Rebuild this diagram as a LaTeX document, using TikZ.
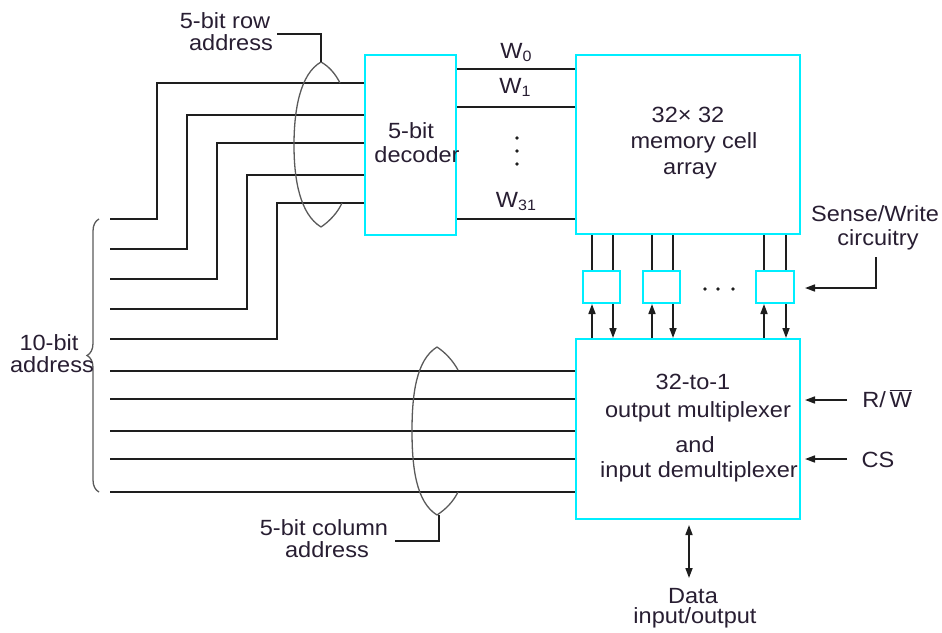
\documentclass[tikz,border=0pt]{standalone}
\usepackage{fontspec}
\setmainfont{Liberation Sans}[FakeStretch=1.07]
\usetikzlibrary{arrows.meta,decorations.pathreplacing,calc}
\definecolor{boxc}{RGB}{0,238,255}
\definecolor{wirec}{RGB}{30,30,30}
\definecolor{loopc}{RGB}{90,90,90}
\definecolor{textc}{RGB}{40,30,50}
\begin{document}
\begin{tikzpicture}[x=1pt,y=-1pt,
  blk/.style={draw=boxc,line width=2pt,inner sep=0pt,fill=none},
  lbl/.style={anchor=base,inner sep=0pt,font=\fontsize{22}{26}\selectfont,text=textc},
  wire/.style={draw=wirec,line width=1.6pt},
  tip/.style={-{Triangle[length=10pt,width=7pt]}},
  dtip/.style={{Triangle[length=10pt,width=7pt]}-{Triangle[length=10pt,width=7pt]}},
  lens/.style={draw=loopc,line width=1.3pt},
  dotm/.style={fill=wirec,draw=none}]
\useasboundingbox (0,0) rectangle (942,632);

% ---------- blocks ----------
\node[blk,minimum width=91pt,minimum height=180pt] (dec) at (410.5,145) {};
\node[blk,minimum width=224pt,minimum height=179pt] (mem) at (688,144.5) {};
\node[blk,minimum width=224pt,minimum height=180pt] (mux) at (688,429) {};
\node[blk,minimum width=37pt,minimum height=32pt] (sw1) at (601.5,287) {};
\node[blk,minimum width=37pt,minimum height=32pt] (sw2) at (661.5,287) {};
\node[blk,minimum width=38pt,minimum height=32pt] (sw3) at (775,287) {};

% ---------- block texts ----------
\node[lbl] (dect1) at (411,138) {5-bit};
\node[lbl] (dect2) at (417,162) {decoder};
\node[lbl] (memt1) at (688,122) {32\texttimes\ 32};
\node[lbl] (memt2) at (694,148) {memory cell};
\node[lbl] (memt3) at (690,174) {array};
\node[lbl] (muxt1) at (693,389) {32-to-1};
\node[lbl] (muxt2) at (698,417) {output multiplexer};
\node[lbl] (muxt3) at (695,452) {and};
\node[lbl] (muxt4) at (699,477) {input demultiplexer};

% ---------- row address wires ----------
\foreach \i/\yl/\xv/\yt in {0/219/157/83, 1/249/187/115, 2/279/217/143, 3/309/247/175, 4/339/277/203}{
  \coordinate (rin\i) at (110,\yl);
  \coordinate (rbend\i) at (\xv,\yt);
  \draw[wire] (rin\i) -| (rbend\i) -- (rbend\i -| dec.west);
}
% ---------- column address wires ----------
\foreach \i/\y in {0/371, 1/399, 2/431, 3/459, 4/492}{
  \coordinate (cin\i) at (110,\y);
  \draw[wire] (cin\i) -- (cin\i -| mux.west);
}

% ---------- word lines ----------
\foreach \i/\y in {0/69, 1/107, 31/219}{
  \coordinate (wl\i) at (0,\y);
  \draw[wire] (wl\i -| dec.east) -- (wl\i -| mem.west);
}
\node[lbl] (lw0) at (516,58) {W\raisebox{-3pt}{\fontsize{15}{15}\selectfont 0}};
\node[lbl] (lw1) at (515,93) {W\raisebox{-3pt}{\fontsize{15}{15}\selectfont 1}};
\node[lbl] (lw31) at (516,207) {W\raisebox{-3pt}{\fontsize{15}{15}\selectfont 31}};
\fill[dotm] (517,138) circle (1.8) (517,151) circle (1.8) (517,164) circle (1.8);

% ---------- sense/write columns ----------
\foreach \n/\xa/\xb in {1/592/613, 2/652/673, 3/764/786}{
  \coordinate (ca\n) at (\xa,0);
  \coordinate (cb\n) at (\xb,0);
  \draw[wire] (ca\n |- mem.south) -- (ca\n |- sw\n.north);
  \draw[wire] (cb\n |- mem.south) -- (cb\n |- sw\n.north);
  \draw[wire,tip] (ca\n |- mux.north) -- (ca\n |- sw\n.south);
  \draw[wire,tip] (cb\n |- sw\n.south) -- (cb\n |- mux.north);
}
\fill[dotm] (705,289) circle (1.8) (718,289) circle (1.8) (733,289) circle (1.8);

% ---------- row address lens ----------
\draw[lens] (321,62) .. controls (300,74) and (294,110) .. (294,145)
            .. controls (294,180) and (300,214) .. (321,227);
\draw[lens] (321,62) .. controls (330,67) and (336,75) .. (340,83);
\draw[lens] (342,203) .. controls (338,212) and (330,221) .. (321,227);
\coordinate (rowtop) at (321,62);
\coordinate (rowlead) at (277,34);
\draw[wire,line width=1.4pt] (rowtop) |- (rowlead);
\node[lbl] (rowl1) at (225,28) {5-bit row};
\node[lbl] (rowl2) at (231,50) {address};

% ---------- column address lens ----------
\draw[lens] (437,347) .. controls (416,360) and (412,395) .. (412,431)
            .. controls (412,467) and (416,502) .. (437,515);
\draw[lens] (437,347) .. controls (446,353) and (453,361) .. (458,370);
\draw[lens] (458,492) .. controls (453,502) and (446,509) .. (437,515);
\coordinate (coltop) at (439,515);
\coordinate (collead) at (395,541);
\draw[wire,line width=1.4pt] (coltop) |- (collead);
\node[lbl] (coll1) at (324,535) {5-bit column};
\node[lbl] (coll2) at (327,557) {address};

% ---------- 10-bit brace ----------
\coordinate (brbot) at (99,492);
\coordinate (brtop) at (99,219);
\draw[lens,decorate,decoration={brace,amplitude=12pt}] (brbot) -- (brtop);
\node[lbl] (tenl1) at (49,350) {10-bit};
\node[lbl] (tenl2) at (52,372) {address};

% ---------- sense/write label ----------
\node[lbl] (swl1) at (875,221) {Sense/Write};
\node[lbl] (swl2) at (878,245) {circuitry};
\coordinate (swlead) at (876,257);
\coordinate (swtip) at (805,288);
\draw[wire,tip] (swlead) |- (swtip);

% ---------- control inputs ----------
\coordinate (rwfrom) at (847,400);
\coordinate (rwto) at (805,400);
\draw[wire,tip] (rwfrom) -- (rwto);
\node[lbl] (rwl) at (887,407) {R/\,$\overline{\mbox{W}}$};
\coordinate (csfrom) at (847,459);
\coordinate (csto) at (805,459);
\draw[wire,tip] (csfrom) -- (csto);
\node[lbl] (csl) at (878,467) {CS};

% ---------- data ----------
\coordinate (dtop) at (689,525);
\coordinate (dbot) at (689,578);
\draw[wire,dtip] (dtop) -- (dbot);
\node[lbl] (datal1) at (693,603) {Data};
\node[lbl] (datal2) at (695,623) {input/output};
\end{tikzpicture}
\end{document}
